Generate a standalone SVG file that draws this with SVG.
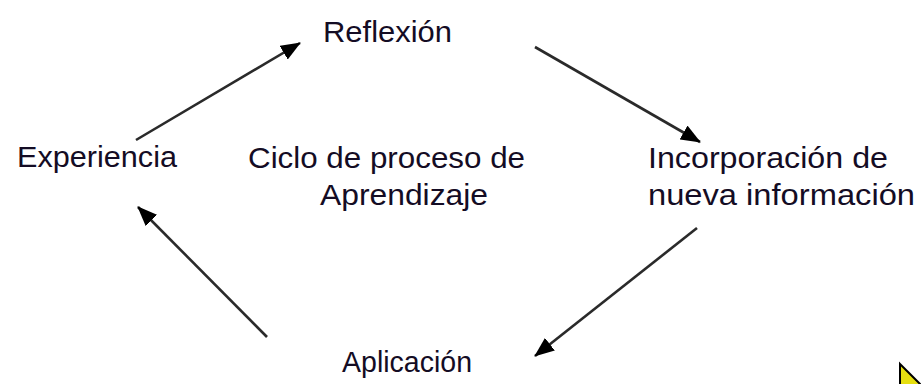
<svg xmlns="http://www.w3.org/2000/svg" width="921" height="384" viewBox="0 0 921 384">
  <style>
    .lbl { font-family: "Liberation Sans", Arial, sans-serif; font-size: 30px; fill: #140c24; }
    .arr { stroke: #2a2a2a; stroke-width: 2.6; fill: none; marker-end: url(#head); }
  </style>
  <defs>
    <marker id="head" markerUnits="userSpaceOnUse" markerWidth="20" markerHeight="16" refX="19" refY="8" orient="auto">
      <path d="M0,0 L20,8 L0,16 Z" fill="#000"/>
    </marker>
  </defs>
  <rect width="921" height="384" fill="#fff"/>
  <g id="connectors">
    <line class="arr" x1="136" y1="140" x2="300" y2="43"/>
    <line class="arr" x1="535" y1="47" x2="700" y2="142"/>
    <line class="arr" x1="697" y1="228" x2="535" y2="356"/>
    <line class="arr" x1="267" y1="337" x2="138" y2="207"/>
  </g>
  <g id="reflexion"><text class="lbl" x="323" y="42" textLength="129" lengthAdjust="spacingAndGlyphs">Reflexión</text></g>
  <g id="experiencia"><text class="lbl" x="17" y="167" textLength="160" lengthAdjust="spacingAndGlyphs">Experiencia</text></g>
  <g id="ciclo">
    <text class="lbl" x="248" y="168" textLength="277" lengthAdjust="spacingAndGlyphs">Ciclo de proceso de</text>
    <text class="lbl" x="320" y="205" textLength="168" lengthAdjust="spacingAndGlyphs">Aprendizaje</text>
  </g>
  <g id="incorporacion">
    <text class="lbl" x="648" y="168" textLength="240" lengthAdjust="spacingAndGlyphs">Incorporación de</text>
    <text class="lbl" x="648" y="205" textLength="267" lengthAdjust="spacingAndGlyphs">nueva información</text>
  </g>
  <g id="aplicacion"><text class="lbl" x="342" y="372" textLength="130" lengthAdjust="spacingAndGlyphs">Aplicación</text></g>
  <polygon points="900,364 921,385 900,385" fill="#e6df10" stroke="#000" stroke-width="2"/>
</svg>
